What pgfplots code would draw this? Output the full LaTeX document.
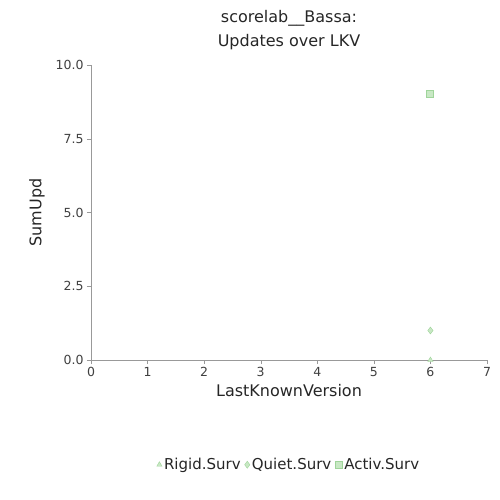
\documentclass[border=0pt]{standalone}
\usepackage{pgfplots}
\pgfplotsset{compat=1.18}
\usepackage{fontspec}
\setmainfont{DejaVu Sans}
\definecolor{mk}{HTML}{9FD49A}
\definecolor{mkf}{HTML}{C8E8C4}
\definecolor{ax}{HTML}{999999}
\begin{document}
\begin{tikzpicture}
\path[use as bounding box] (-91pt,-140pt) rectangle (409pt,360pt);
\begin{axis}[
  at={(0,0)}, anchor=origin,
  scale only axis, width=396pt, height=295pt,
  xmin=0, xmax=7, ymin=0, ymax=10,
  xtick={0,...,7}, ytick={0,2.5,5,7.5,10},
  yticklabel style={/pgf/number format/fixed,/pgf/number format/fixed zerofill,/pgf/number format/precision=1},
  /pgf/number format/assume math mode=true,
  axis lines*=left, axis line style={ax},
  tick style={ax}, tick align=outside, major tick length=4pt,
  ticklabel style={font=\fontsize{12.5}{14}\selectfont, text=black!75},
  xlabel={LastKnownVersion}, ylabel={SumUpd},
  label style={font=\fontsize{16}{18}\selectfont, text=black!85},
  ylabel style={yshift=4pt},
  title={scorelab\_\_Bassa:\\Updates over LKV}, title style={align=center, font=\fontsize{16}{24}\selectfont, text=black!85, yshift=6pt},
  legend style={at={(0.5,-0.355)}, anchor=center, draw=none, legend columns=3, font=\fontsize{15}{17}\selectfont, text=black!85, /tikz/every even column/.append style={column sep=2pt}},
  legend cell align=left,
]
\addplot[only marks, mark=triangle*, mark size=3pt, draw=mk, fill=mkf] coordinates {(6,0)};
\addlegendentry{Rigid.Surv}
\addplot[only marks, mark=diamond*, mark size=3.5pt, draw=mk, fill=mkf] coordinates {(6,1)};
\addlegendentry{Quiet.Surv}
\addplot[only marks, mark=square*, mark size=3.5pt, draw=mk, fill=mkf, line width=1pt] coordinates {(6,9)};
\addlegendentry{Activ.Surv}
\end{axis}
\end{tikzpicture}
\end{document}
